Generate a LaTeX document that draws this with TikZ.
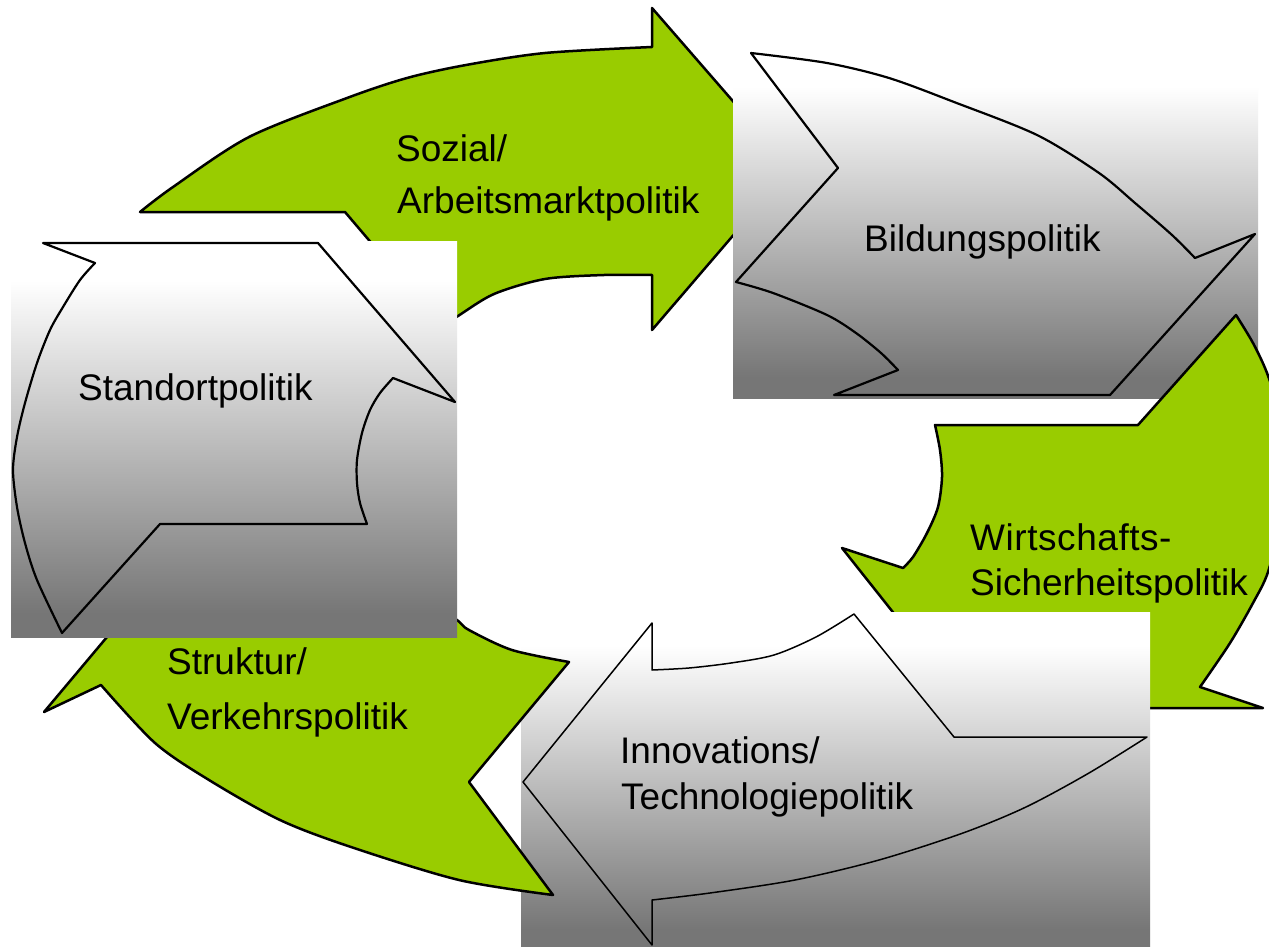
\documentclass[tikz,border=0pt]{standalone}
\usepackage{fontspec}
\setmainfont{Liberation Sans}
\definecolor{pgreen}{RGB}{153,204,0}
\definecolor{gbot}{RGB}{118,118,118}
\pgfdeclareverticalshading{grayfade}{100bp}{color(0bp)=(gbot); color(28bp)=(gbot); color(70bp)=(white); color(100bp)=(white)}
\begin{document}
\begin{tikzpicture}[x=1pt,y=-1pt,
  greenarrow/.style={fill=pgreen, draw=black, line width=2.5pt, line join=round},
  grayoutline/.style={draw=black, line width=2.2pt, line join=round},
  grayrect/.style={shading=grayfade},
  lbl/.style={anchor=base west, inner sep=0pt, font=\fontsize{37}{44}\selectfont}]
\useasboundingbox (0,0) rectangle (1269,947);
\clip (0,0) rectangle (1269,947);
\fill[white] (0,0) rectangle (1269,947);

% Sozial / Arbeitsmarktpolitik
\filldraw[greenarrow] (140,212) -- (345,212) -- (442,326)
  -- plot[smooth] coordinates {(442,326) (458,316) (494,294) (545,279) (604,275) (652,275)}
  -- (652,330) -- (791,168) -- (652,8) -- (652,47)
  -- plot[smooth] coordinates {(652,47) (545,53) (466,65) (407,78) (347,98) (249,137) (173,187) (140,212)}
  -- cycle;
\node[lbl] (soz1) at (396,161) {Sozial/};
\node[lbl] (soz2) at (397,213) {Arbeitsmarktpolitik};

% Bildungspolitik
\shade[grayrect] (733,52) rectangle (1258,398);
\draw[grayoutline] (751,53)
  -- plot[smooth] coordinates {(751,53) (827,63) (889,78) (954,102) (1037,135) (1099,173) (1135,203) (1172,235) (1195,258)}
  -- (1255,234) -- (1110,395) -- (834,395) -- (898,370)
  -- plot[smooth] coordinates {(898,370) (881,353) (856,333) (827,315) (773,293) (736,282)}
  -- (838,168) -- cycle;
\node[lbl] (bild) at (864,251) {Bildungspolitik};

% Wirtschafts- / Sicherheitspolitik
\filldraw[greenarrow] (935,425) -- (1138,425) -- (1236,315)
  -- plot[smooth] coordinates {(1236,315) (1253,343) (1267,373) (1278,410) (1283,460) (1280,520) (1268,572) (1253,603) (1230,643) (1200,687)}
  -- (1263,708) -- (969,708) -- (842,548) -- (903,568)
  -- plot[smooth] coordinates {(903,568) (913,557) (927,533) (938,507) (942,477) (940,450) (935,425)}
  -- cycle;
\node[lbl] (wir1) at (970,550) {\addfontfeature{LetterSpace=1.5}Wirtschafts-};
\node[lbl] (wir2) at (970,595) {Sicherheitspolitik};

% Innovations / Technologiepolitik
\shade[grayrect] (521,612) rectangle (1150,950);
\draw[grayoutline, line width=1.5pt] (523,782) -- (652,623) -- (652,670)
  -- plot[smooth] coordinates {(652,670) (689,668) (731,663) (774,655) (816,637) (854,614)}
  -- (954,737) -- (1147,737)
  -- plot[smooth] coordinates {(1147,737) (1089,773) (1026,807) (963,833) (879,860) (795,880) (710,893) (652,900)}
  -- (652,945) -- cycle;
\node[lbl] (inn1) at (620,763) {Innovations/};
\node[lbl] (inn2) at (621,809) {Technologiepolitik};

% Struktur / Verkehrspolitik
\filldraw[greenarrow] (569,662) -- (469,782) -- (553,895)
  -- plot[smooth] coordinates {(553,895) (459,880) (351,847) (280,820) (209,780) (155,743) (101,685)}
  -- (44,712) -- (107,637) -- (175,560) -- (380,560)
  -- plot[smooth] coordinates {(380,560) (420,592) (457,620) (469,630) (512,650) (569,662)}
  -- cycle;
\node[lbl] (str1) at (167,674) {Struktur/};
\node[lbl] (str2) at (167,729) {Verkehrspolitik};

% Standortpolitik
\shade[grayrect] (11,241) rectangle (457,637);
\draw[grayoutline] (43,243) -- (95,263)
  -- plot[smooth] coordinates {(95,263) (80,280) (63,307) (50,330) (37,363) (25,403) (17,437) (13,470) (17,507) (25,543) (37,580) (62,633)}
  -- (160,524) -- (367,524)
  -- plot[smooth] coordinates {(367,524) (360,503) (357,483) (357,460) (362,433) (370,410) (380,393) (393,378)}
  -- (455,402) -- (318,243) -- cycle;
\node[lbl] (std) at (78,400) {Standortpolitik};
\end{tikzpicture}
\end{document}
